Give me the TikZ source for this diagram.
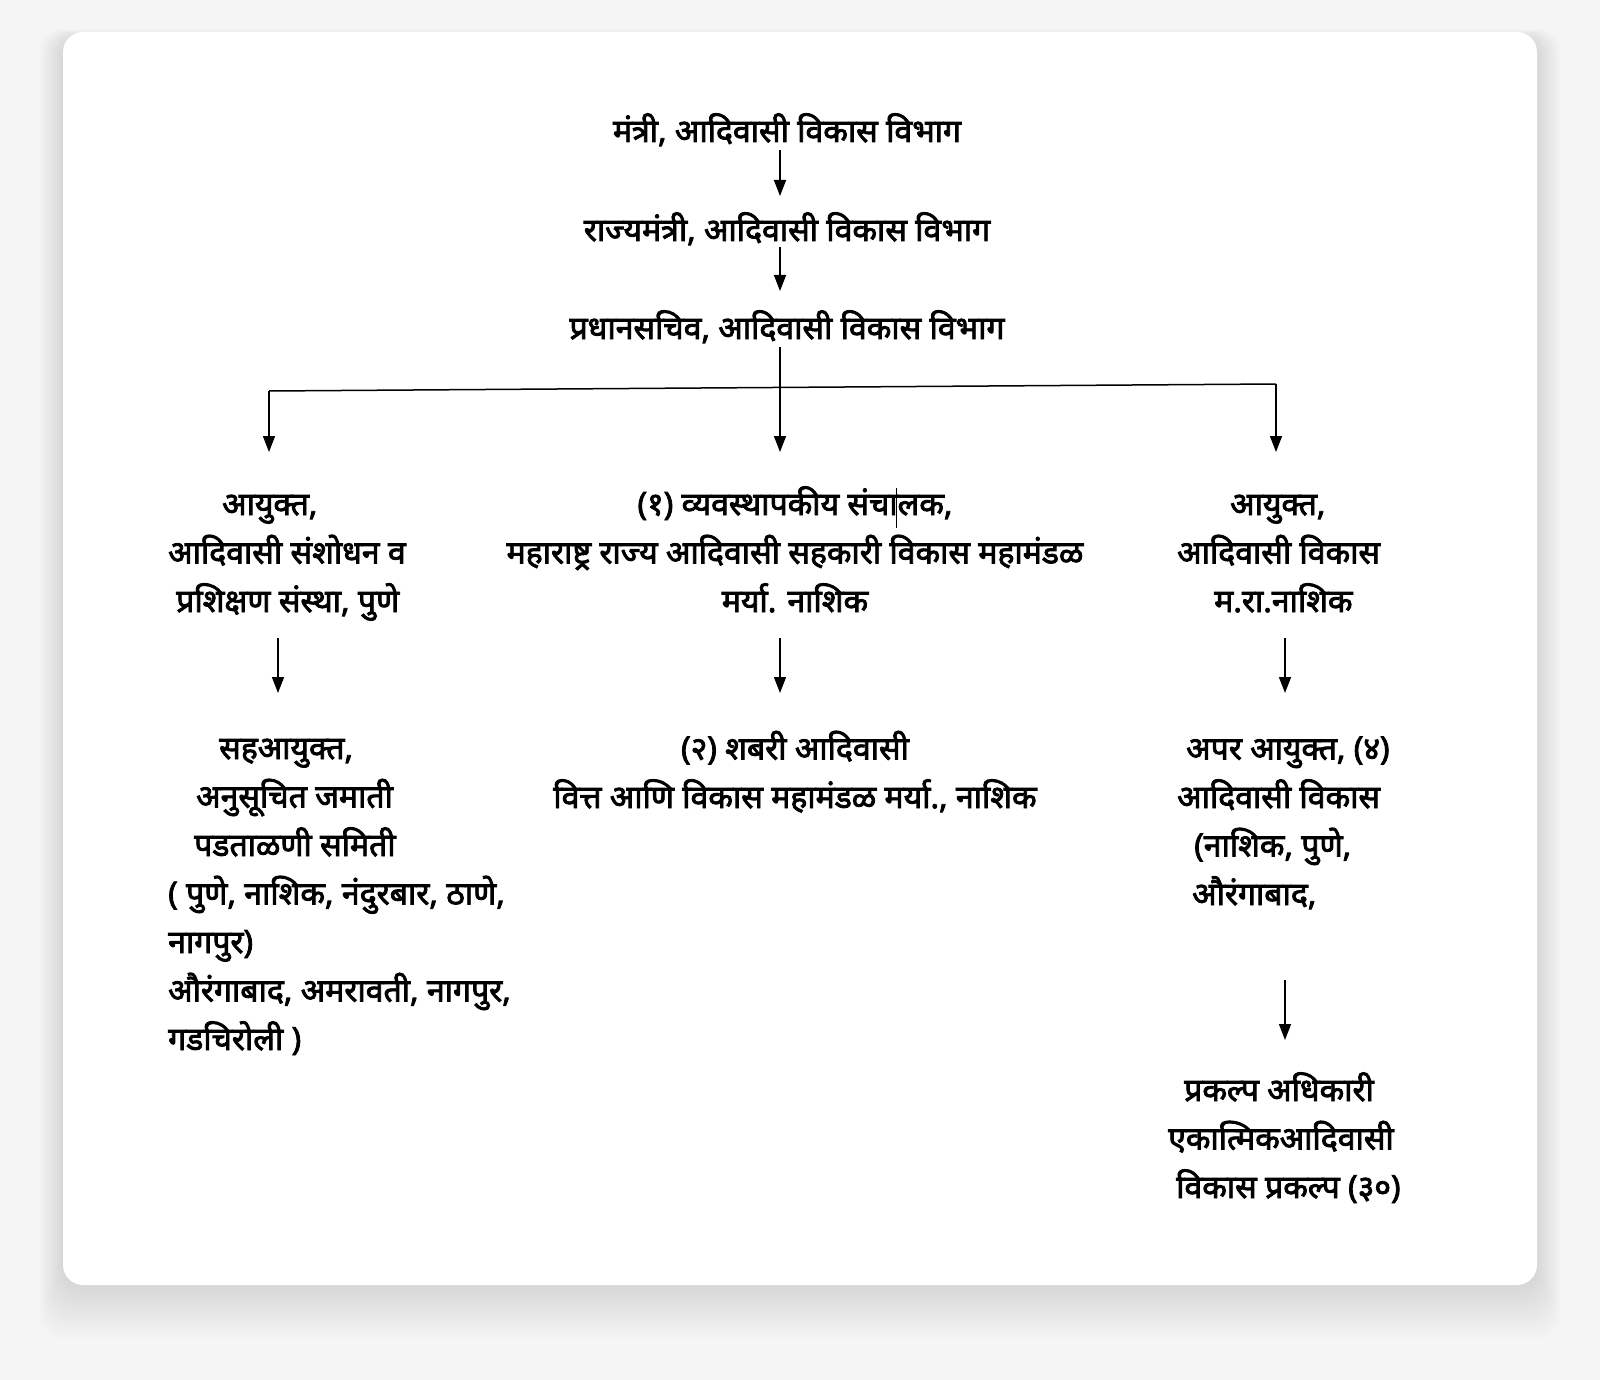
\documentclass[tikz,border=0pt]{standalone}
\usepackage{fontspec}
\usetikzlibrary{arrows.meta}
\newfontfamily\deva[Script=Devanagari,FakeBold=2.6]{Noto Sans}
\begin{document}
\begin{tikzpicture}[x=1pt,y=-1pt,
  lbl/.style={font=\deva\fontsize{32}{48.5}\selectfont, inner sep=0pt, text=black},
  arr/.style={line width=1.5pt, -{Triangle[length=16pt,width=12pt]}},
  plain/.style={line width=1.5pt}]
\useasboundingbox (0,0) rectangle (1600,1380);
\fill[white!96!black] (0,0) rectangle (1600,1380);
\foreach \i in {1,...,30} {
  \fill[black, opacity=0.0035, rounded corners=22pt] (63-\i*0.8,32-\i*0.3+6) rectangle (1537+\i*0.8,1285+\i*1.8);
}
\fill[white, rounded corners=20pt] (63,32) rectangle (1537,1285);

% level 1
\node[lbl, anchor=base] (t1) at (787,142) {मंत्री, आदिवासी विकास विभाग};
\node[lbl, anchor=base] (t2) at (787,241) {राज्यमंत्री, आदिवासी विकास विभाग};
\node[lbl, anchor=base] (t3) at (787,339) {प्रधानसचिव, आदिवासी विकास विभाग};

\coordinate (a1s) at (780,150); \coordinate (a1e) at (780,196);
\coordinate (a2s) at (780,247); \coordinate (a2e) at (780,291);
\draw[arr] (a1s) -- (a1e);
\draw[arr] (a2s) -- (a2e);

% branch
\coordinate (bs) at (780,347);
\coordinate (bl) at (269,391);
\coordinate (br) at (1276,384);
\coordinate (blE) at (269,452);
\coordinate (bcE) at (780,452);
\coordinate (brE) at (1276,452);
\draw[plain] (bl) -- (br);
\draw[arr] (bs) -- (bcE);
\draw[arr] (bl) -- (blE);
\draw[arr] (br) -- (brE);

% level 2
\node[lbl, anchor=base west, align=left] (l2) at (168,612)
  {\hspace*{54pt}आयुक्त,\\आदिवासी संशोधन व\\\hspace*{8pt}प्रशिक्षण संस्था, पुणे};
\node[lbl, anchor=base, align=center] (c2) at (795,612)
  {(१) व्यवस्थापकीय संचालक,\\महाराष्ट्र राज्य आदिवासी सहकारी विकास महामंडळ\\मर्या. नाशिक};
\node[lbl, anchor=base west, align=left] (r2) at (1177,612)
  {\hspace*{53pt}आयुक्त,\\आदिवासी विकास\\\hspace*{37pt}म.रा.नाशिक};
\draw[line width=0.8pt] (896,488) -- (896,528);

\coordinate (l2s) at (278,638); \coordinate (l2e) at (278,693);
\coordinate (c2s) at (780,638); \coordinate (c2e) at (780,693);
\coordinate (r2s) at (1285,638); \coordinate (r2e) at (1285,693);
\draw[arr] (l2s) -- (l2e);
\draw[arr] (c2s) -- (c2e);
\draw[arr] (r2s) -- (r2e);

% level 3
\node[lbl, anchor=base west, align=left] (l3) at (168,1050)
  {\hspace*{51pt}सहआयुक्त,\\\hspace*{28pt}अनुसूचित जमाती\\\hspace*{26pt}पडताळणी समिती\\( पुणे, नाशिक, नंदुरबार, ठाणे,\\नागपुर)\\औरंगाबाद, अमरावती, नागपुर,\\गडचिरोली )};
\node[lbl, anchor=base, align=center] (c3) at (795,808)
  {(२) शबरी आदिवासी\\वित्त आणि विकास महामंडळ मर्या., नाशिक};
\node[lbl, anchor=base west, align=left] (r3) at (1177,905)
  {\hspace*{9pt}अपर आयुक्त, (४)\\आदिवासी विकास\\\hspace*{17pt}(नाशिक, पुणे,\\\hspace*{15pt}औरंगाबाद,};

\coordinate (r3s) at (1285,980); \coordinate (r3e) at (1285,1040);
\draw[arr] (r3s) -- (r3e);

% level 4
\node[lbl, anchor=base west, align=left] (r4) at (1168,1198)
  {\hspace*{16pt}प्रकल्प अधिकारी\\एकात्मिकआदिवासी\\\hspace*{8pt}विकास प्रकल्प (३०)};
\end{tikzpicture}
\end{document}
